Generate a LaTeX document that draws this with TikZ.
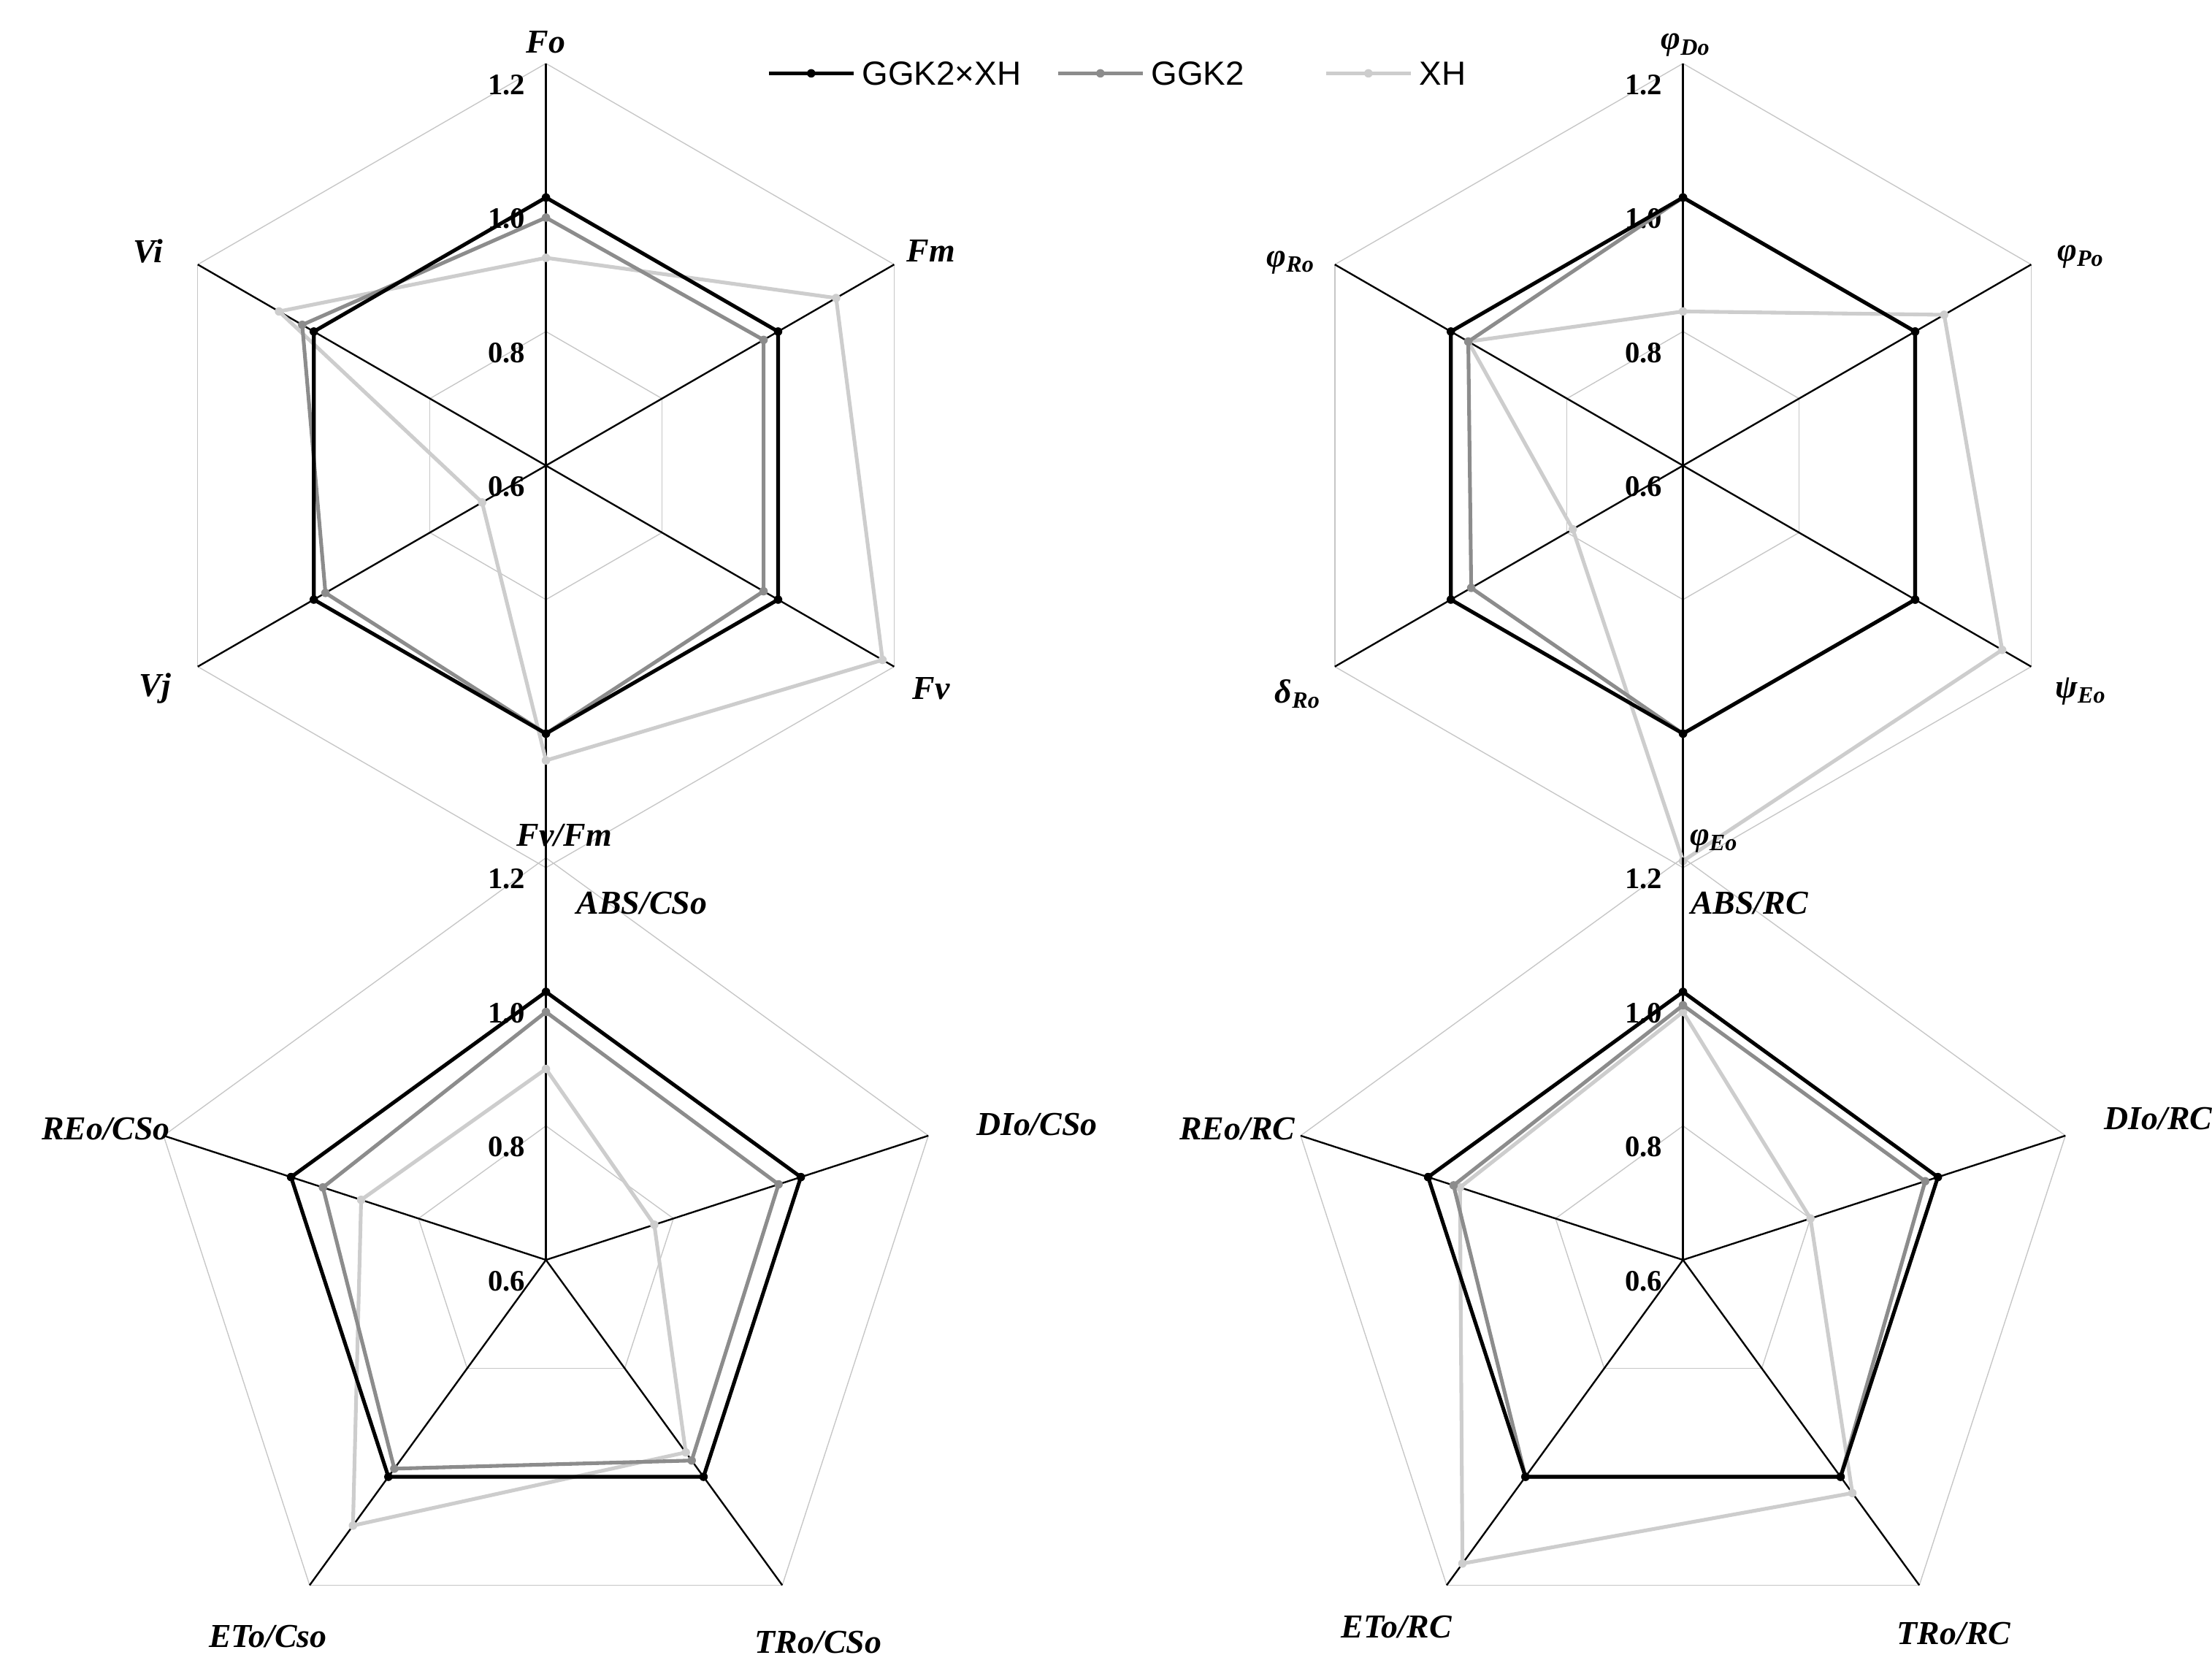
\documentclass[tikz,border=0pt]{standalone}
\usepackage{fontspec}
\setmainfont{Liberation Serif}
\newfontfamily\legfont{Liberation Sans}
\definecolor{cA}{HTML}{000000}
\definecolor{cB}{HTML}{8C8C8C}
\definecolor{cC}{HTML}{CDCDCD}
\newcommand\hexser[3]{%
  \foreach \v [count=\i] in {#2} {\coordinate (#3\i) at ({90-60*(\i-1)}:{(\v-0.6)*475});}
  \draw[#1,line width=1.5pt,line join=round] (#31)--(#32)--(#33)--(#34)--(#35)--(#36)--cycle;
  \foreach \i in {1,...,6} {\fill[#1] (#3\i) circle (3);}}
\newcommand\pentser[3]{%
  \foreach \v [count=\i] in {#2} {\coordinate (#3\i) at ({90-72*(\i-1)}:{(\v-0.6)*475});}
  \draw[#1,line width=1.5pt,line join=round] (#31)--(#32)--(#33)--(#34)--(#35)--cycle;
  \foreach \i in {1,...,5} {\fill[#1] (#3\i) circle (3);}}
\newcommand\gridn[1]{%
  \foreach \r in {95,190,285} {\foreach \k in {1,...,#1} {\draw[gray!45,line width=0.4pt] ({90-360/#1*(\k-1)}:\r) -- ({90-360/#1*\k}:\r);}}
  \foreach \k in {1,...,#1} {\draw[black,line width=0.7pt] (0,0) -- ({90-360/#1*(\k-1)}:285);}
  \foreach \t/\yy in {1.2/270,1.0/175,0.8/80,0.6/-15} {\node[tick] at (-28,\yy) {\t};}}
\tikzset{tick/.style={font=\bfseries\fontsize{12}{14}\selectfont},
  lab/.style={font=\bfseries\itshape\fontsize{13.5}{16}\selectfont}}
\begin{document}
\begin{tikzpicture}[x=0.02cm,y=0.02cm]
\useasboundingbox (0,0) rectangle (1568,1186);
% top-left
\begin{scope}[shift={(387,856)}]
\gridn{6}
\hexser{cC}{0.91,1.10,1.18,1.04,0.71,1.06}{c}
\hexser{cB}{0.97,0.975,0.975,1.0,0.98,1.02}{b}
\hexser{cA}{1.0,1.0,1.0,1.0,1.0,1.0}{a}
\end{scope}
% top-right
\begin{scope}[shift={(1193,856)}]
\gridn{6}
\hexser{cC}{0.83,1.05,1.15,1.19,0.79,0.97}{c}
\hexser{cB}{1.0,1.0,1.0,1.0,0.965,0.97}{b}
\hexser{cA}{1.0,1.0,1.0,1.0,1.0,1.0}{a}
\end{scope}
% bottom-left
\begin{scope}[shift={(387,293)}]
\gridn{5}
\pentser{cC}{0.885,0.77,0.955,1.09,0.89}{c}
\pentser{cB}{0.97,0.965,0.97,0.985,0.95}{b}
\pentser{cA}{1.0,1.0,1.0,1.0,1.0}{a}
\end{scope}
% bottom-right
\begin{scope}[shift={(1193,293)}]
\gridn{5}
\pentser{cC}{0.97,0.80,1.03,1.16,0.95}{c}
\pentser{cB}{0.98,0.98,1.0,1.0,0.96}{b}
\pentser{cA}{1.0,1.0,1.0,1.0,1.0}{a}
\end{scope}
% labels
\node[lab] (l1) at (387,1156) {Fo};
\node[lab] (l2) at (660,1008) {Fm};
\node[lab] (l3) at (660,698) {Fv};
\node[lab] (l4) at (400,594) {Fv/Fm};
\node[lab] (l5) at (110,698) {Vj};
\node[lab] (l6) at (105,1008) {Vi};
\node[lab] (m1) at (1195,1154) {φ\textsubscript{Do}};
\node[lab] (m2) at (1475,1004) {φ\textsubscript{Po}};
\node[lab] (m3) at (1475,696) {ψ\textsubscript{Eo}};
\node[lab] (m4) at (1215,590) {φ\textsubscript{Eo}};
\node[lab] (m5) at (920,694) {δ\textsubscript{Ro}};
\node[lab] (m6) at (915,1000) {φ\textsubscript{Ro}};
\node[lab] (n1) at (455,546) {ABS/CSo};
\node[lab] (n2) at (735,389) {DIo/CSo};
\node[lab] (n3) at (580,22) {TRo/CSo};
\node[lab] (n4) at (190,26) {ETo/Cso};
\node[lab] (n5) at (75,386) {REo/CSo};
\node[lab] (p1) at (1240,546) {ABS/RC};
\node[lab] (p2) at (1530,393) {DIo/RC};
\node[lab] (p3) at (1385,28) {TRo/RC};
\node[lab] (p4) at (990,33) {ETo/RC};
\node[lab] (p5) at (877,386) {REo/RC};
% legend
\foreach \x/\c/\t/\w in {545/cA/GGK2×XH/a,750/cB/GGK2/b,940/cC/XH/c}{
  \coordinate (s\w) at (\x,1134); \coordinate (e\w) at (\x+60,1134);
  \draw[\c,line width=1.5pt] (s\w) -- (e\w);
  \fill[\c] (\x+30,1134) circle (3);
  \node[anchor=west,font=\legfont\fontsize{13.5}{16}\selectfont,inner sep=1pt] (t\w) at (\x+64,1134) {\t};}
\end{tikzpicture}
\end{document}
